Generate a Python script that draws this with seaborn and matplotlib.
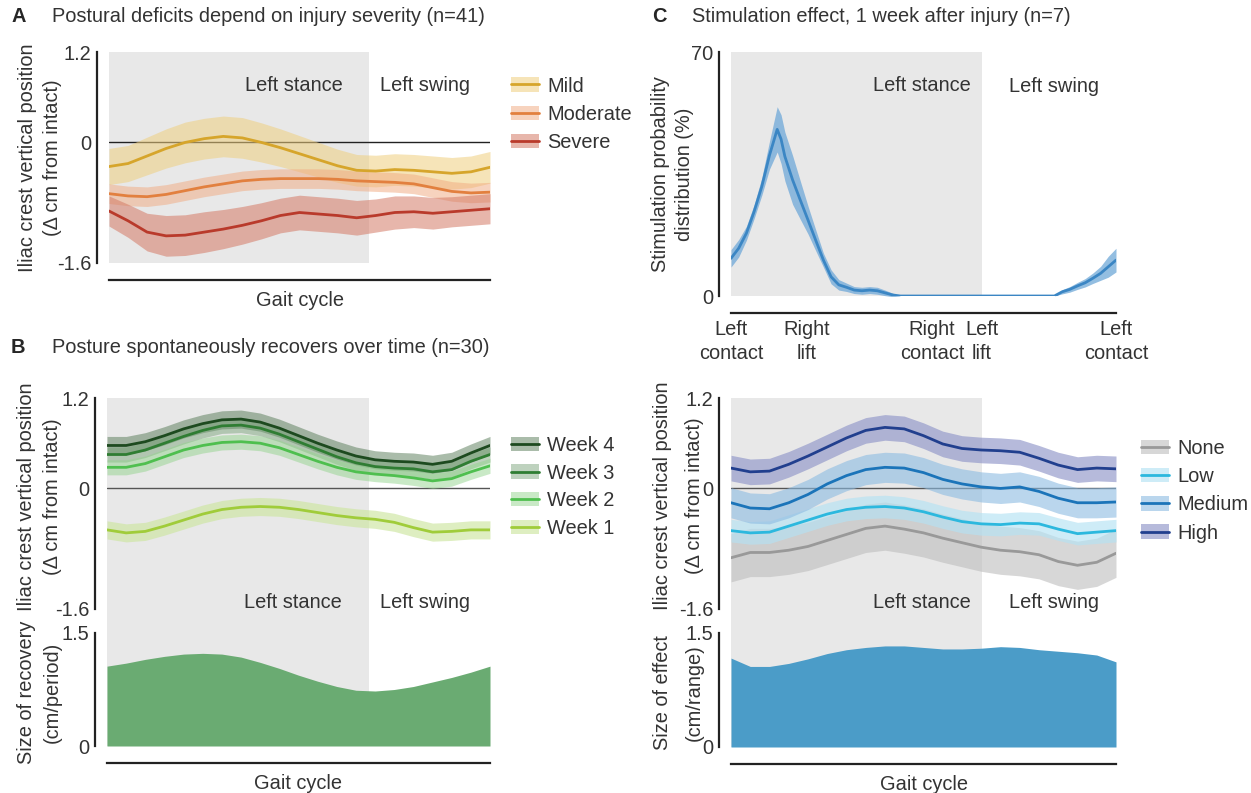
import numpy as np
import pandas as pd
import matplotlib
matplotlib.use("Agg")
import matplotlib.pyplot as plt
import seaborn as sns
from matplotlib.patches import Patch
from matplotlib.lines import Line2D

W, H = 1251, 793

# ---------------- data ----------------
gait = [0.00, 0.05, 0.10, 0.15, 0.20, 0.25, 0.30, 0.35, 0.40, 0.45, 0.50,
        0.55, 0.60, 0.65, 0.70, 0.75, 0.80, 0.85, 0.90, 0.95, 1.00]

# A: injury severity
severity_names = ["Mild", "Moderate", "Severe"]
mild = [-0.32, -0.28, -0.18, -0.08, 0.00, 0.05, 0.08, 0.06, 0.00, -0.07, -0.15,
        -0.23, -0.31, -0.37, -0.38, -0.36, -0.37, -0.39, -0.41, -0.39, -0.33]
mild_sd = [0.24, 0.24, 0.25, 0.26, 0.27, 0.27, 0.27, 0.27, 0.26, 0.25, 0.24,
           0.23, 0.22, 0.21, 0.21, 0.21, 0.21, 0.21, 0.21, 0.21, 0.21]
moderate = [-0.68, -0.71, -0.72, -0.69, -0.64, -0.59, -0.55, -0.51, -0.49, -0.48, -0.48,
            -0.48, -0.49, -0.51, -0.52, -0.53, -0.55, -0.60, -0.65, -0.67, -0.66]
moderate_sd = [0.13] * 21
severe = [-0.91, -1.04, -1.19, -1.24, -1.23, -1.19, -1.15, -1.10, -1.04, -0.97, -0.93,
          -0.95, -0.97, -1.00, -0.97, -0.93, -0.92, -0.94, -0.92, -0.90, -0.88]
severe_sd = [0.20, 0.22, 0.25, 0.27, 0.27, 0.27, 0.26, 0.25, 0.24, 0.23, 0.23,
             0.23, 0.23, 0.23, 0.22, 0.22, 0.21, 0.21, 0.20, 0.20, 0.20]
stance_end_A = 0.682

# B: spontaneous recovery
week_names = ["Week 4", "Week 3", "Week 2", "Week 1"]
week4 = [0.57, 0.57, 0.62, 0.70, 0.79, 0.86, 0.91, 0.92, 0.88, 0.80, 0.70,
         0.60, 0.51, 0.43, 0.38, 0.36, 0.35, 0.32, 0.36, 0.47, 0.57]
week3 = [0.45, 0.45, 0.51, 0.60, 0.69, 0.77, 0.83, 0.84, 0.80, 0.72, 0.62,
         0.52, 0.42, 0.34, 0.29, 0.27, 0.26, 0.22, 0.25, 0.36, 0.45]
week2 = [0.28, 0.28, 0.33, 0.42, 0.51, 0.57, 0.61, 0.62, 0.60, 0.54, 0.45,
         0.36, 0.28, 0.22, 0.19, 0.17, 0.14, 0.10, 0.13, 0.22, 0.30]
week1 = [-0.55, -0.59, -0.57, -0.50, -0.42, -0.34, -0.28, -0.25, -0.24, -0.25, -0.28,
         -0.32, -0.36, -0.39, -0.41, -0.45, -0.52, -0.58, -0.57, -0.55, -0.55]
week_sd = [0.12, 0.10, 0.10, 0.12]
recovery = [1.06, 1.10, 1.15, 1.19, 1.22, 1.23, 1.22, 1.18, 1.11, 1.03, 0.94,
            0.86, 0.79, 0.74, 0.73, 0.75, 0.79, 0.85, 0.91, 0.98, 1.06]
stance_end_B = 0.683

# C: stimulation
stim_x = [0.00, 0.02, 0.04, 0.06, 0.08, 0.10, 0.12, 0.13, 0.14, 0.16, 0.18, 0.20,
          0.22, 0.24, 0.26, 0.28, 0.30, 0.32, 0.34, 0.36, 0.38, 0.40, 0.42, 0.44,
          0.60, 0.84, 0.86, 0.88, 0.90, 0.92, 0.94, 0.96, 0.98, 1.00]
stim_mean = [10.8, 13.7, 18.0, 24.2, 31.4, 40.4, 47.8, 45.0, 40.0, 33.3, 27.5, 21.8,
             16.0, 10.3, 5.5, 3.2, 2.5, 1.7, 1.5, 1.7, 1.5, 0.9, 0.3, 0.0,
             0.0, 0.0, 1.2, 1.9, 2.9, 3.8, 5.1, 6.5, 8.4, 10.3]
stim_sem = [2.5, 2.5, 2.0, 2.0, 2.5, 4.0, 6.5, 7.0, 7.0, 7.0, 5.5, 4.0,
            3.0, 2.0, 2.0, 1.5, 1.2, 1.0, 1.0, 1.0, 1.0, 0.8, 0.5, 0.0,
            0.0, 0.0, 0.6, 0.8, 1.0, 1.2, 1.5, 2.0, 3.0, 3.4]
event_pos = [0.0, 0.197, 0.522, 0.652, 1.0]
event_labels = ["Left\ncontact", "Right\nlift", "Right\ncontact", "Left\nlift", "Left\ncontact"]
stance_end_C = 0.652

amp_names = ["None", "Low", "Medium", "High"]
amp_none = [-0.92, -0.85, -0.85, -0.82, -0.77, -0.69, -0.61, -0.53, -0.50, -0.54, -0.59,
            -0.66, -0.72, -0.78, -0.82, -0.84, -0.88, -0.97, -1.02, -0.98, -0.86]
amp_low = [-0.56, -0.59, -0.58, -0.50, -0.42, -0.34, -0.28, -0.25, -0.24, -0.26, -0.31,
           -0.38, -0.44, -0.47, -0.48, -0.46, -0.47, -0.54, -0.60, -0.58, -0.56]
amp_medium = [-0.19, -0.26, -0.27, -0.19, -0.08, 0.06, 0.17, 0.25, 0.28, 0.27, 0.21,
              0.12, 0.06, 0.02, 0.00, 0.02, -0.04, -0.13, -0.19, -0.19, -0.18]
amp_high = [0.27, 0.22, 0.23, 0.32, 0.43, 0.55, 0.67, 0.77, 0.81, 0.79, 0.70,
            0.59, 0.53, 0.51, 0.50, 0.48, 0.40, 0.31, 0.25, 0.27, 0.26]
amp_sd = [0.32, 0.15, 0.20, 0.17]
effect = [1.17, 1.06, 1.06, 1.10, 1.16, 1.23, 1.28, 1.31, 1.33, 1.33, 1.31,
          1.29, 1.29, 1.30, 1.32, 1.31, 1.28, 1.26, 1.24, 1.21, 1.12]

# ---------------- style ----------------
sns.set_style("white")
plt.rcParams["font.family"] = ["Liberation Sans", "DejaVu Sans"]
FS = 14.4
plt.rcParams["font.size"] = FS
TXT = "#333333"
SHADE = "#e8e8e8"
SPINE_W = 1.6

fig = plt.figure(figsize=(W / 100, H / 100), dpi=100)


def box(l, t, r, b):
    return [l / W, 1 - b / H, (r - l) / W, (b - t) / H]


def add_ax(l, t, r, b, z=1):
    ax = fig.add_axes(box(l, t, r, b), zorder=z)
    ax.patch.set_alpha(0)
    ax.set_xlim(0, 1)
    ax._px = (l, t, r, b)
    return ax


def ylabel2(ax, line1, line2, x1, x2, yc=None):
    # two-line y label, each line placed on its own (positions in figure pixels)
    l, t, r, b = ax._px
    yf = 0.5 if yc is None else (b - yc) / (b - t)
    for s, x in [(line1, x1), (line2, x2)]:
        ax.text((x - l) / (r - l), yf, s, transform=ax.transAxes, rotation=90,
                ha="center", va="center", fontsize=FS, color=TXT)


def style_y(ax, lo, hi, ticks, ticklabels):
    ax.set_ylim(lo, hi)
    ax.set_yticks(ticks)
    ax.set_yticklabels(ticklabels)
    for s in ["top", "right", "bottom"]:
        ax.spines[s].set_visible(False)
    ax.spines["left"].set_position(("outward", 8.5))
    ax.spines["left"].set_linewidth(SPINE_W)
    ax.spines["left"].set_color("#222222")
    ax.tick_params(axis="y", direction="in", length=4, width=SPINE_W, pad=4,
                   labelsize=FS, colors="#222222", labelcolor=TXT)
    ax.set_xticks([])


def bracket(ax, ticks, ticklabels, xlabel=None, pad=12.5):
    sp = ax.spines["bottom"]
    sp.set_visible(True)
    sp.set_position(("outward", pad))
    sp.set_linewidth(SPINE_W)
    sp.set_color("#222222")
    ax.set_xticks(ticks)
    ax.set_xticklabels(ticklabels)
    ax.tick_params(axis="x", direction="in", length=4, width=SPINE_W, pad=5,
                   labelsize=FS, labelcolor=TXT, colors="#222222")
    for lbl in ax.get_xticklabels():
        lbl.set_linespacing(1.3)
    if xlabel:
        ax.set_xlabel(xlabel, fontsize=FS, color=TXT, labelpad=3)


def band_line(ax, x, y, sd, line_c, band_c, band_a):
    y = np.asarray(y)
    sd = np.asarray(sd)
    ax.fill_between(x, y - sd, y + sd, color=band_c, alpha=band_a, lw=0, zorder=2)
    sns.lineplot(x=x, y=y, ax=ax, color=line_c, lw=2, zorder=3, legend=False)


def add_legend(names, line_cs, band_cs, band_as, x_px, y_px, spacing=0.5):
    handles = [(Patch(facecolor=b, alpha=a, lw=0), Line2D([], [], color=l, lw=2))
               for l, b, a in zip(line_cs, band_cs, band_as)]
    fig.legend(handles, names, loc="upper left", bbox_to_anchor=(x_px / W, 1 - y_px / H),
               frameon=False, fontsize=FS, handlelength=1.4, handleheight=0.72,
               handletextpad=0.4, labelspacing=spacing, borderpad=0, borderaxespad=0,
               labelcolor=TXT)


def panel_title(x_letter, x_text, y, letter, text):
    fig.text(x_letter / W, 1 - y / H, letter, fontsize=FS, fontweight="bold", va="center")
    fig.text(x_text / W, 1 - y / H, text, fontsize=FS, va="center", color=TXT)


# ---------------- Panel A ----------------
panel_title(11, 52, 17, "A", "Postural deficits depend on injury severity (n=41)")
axA = add_ax(109, 52, 490, 263)
axA.axvspan(0, stance_end_A, color=SHADE, lw=0, zorder=0)
axA.axhline(0, color="#222222", lw=1, zorder=1)
sev_lines = ["#d6a52b", "#e2803f", "#b93a2b"]
sev_bands = ["#efcf7f", "#f1a97f", "#d47a66"]
sev_alpha = [0.55, 0.5, 0.55]
for y, sd, lc, bc, ba in zip([mild, moderate, severe], [mild_sd, moderate_sd, severe_sd],
                             sev_lines, sev_bands, sev_alpha):
    band_line(axA, gait, y, sd, lc, bc, ba)
style_y(axA, -1.6, 1.2, [-1.6, 0, 1.2], ["-1.6", "0", "1.2"])
ylabel2(axA, "Iliac crest vertical position", "(\u0394 cm from intact)", 27, 53)
bracket(axA, [0, 1], ["", ""], "Gait cycle")
axA.text(0.486, 0.75, "Left stance", ha="center", va="center", fontsize=FS, color=TXT)
axA.text(0.83, 0.75, "Left swing", ha="center", va="center", fontsize=FS, color=TXT)
add_legend(severity_names, sev_lines, sev_bands, sev_alpha, 511, 76.5, spacing=0.47)

# ---------------- Panel B ----------------
panel_title(11, 52, 348, "B", "Posture spontaneously recovers over time (n=30)")
bgB = add_ax(107, 398, 490, 746, z=0)
bgB.axvspan(0, stance_end_B, color=SHADE, lw=0)
bgB.set_ylim(0, 1)
bgB.axis("off")
bgB.text(0.486, 0.411, "Left stance", ha="center", va="center", fontsize=FS, color=TXT)
bgB.text(0.83, 0.411, "Left swing", ha="center", va="center", fontsize=FS, color=TXT)

axB1 = add_ax(107, 398, 490, 609)
axB1.axhline(0, color="#555555", lw=1, zorder=1)
wk_lines = ["#1d4a1f", "#2f7d33", "#4fbf4f", "#a0cc3a"]
wk_bands = ["#567a56", "#6f9d6f", "#94d48e", "#cde6a0"]
wk_alpha = [0.5, 0.45, 0.5, 0.65]
for y, sd, lc, bc, ba in zip([week4, week3, week2, week1], week_sd, wk_lines, wk_bands, wk_alpha):
    band_line(axB1, gait, y, [sd] * len(gait), lc, bc, ba)
style_y(axB1, -1.6, 1.2, [-1.6, 0, 1.2], ["-1.6", "0", "1.2"])
ylabel2(axB1, "Iliac crest vertical position", "(\u0394 cm from intact)", 27, 53, yc=497)
add_legend(week_names, wk_lines, wk_bands, wk_alpha, 511, 436, spacing=0.43)

axB2 = add_ax(107, 633, 490, 746)
axB2.fill_between(gait, 0, recovery, color="#6aab72", lw=0, zorder=2)
style_y(axB2, 0, 1.5, [0, 1.5], ["0", "1.5"])
ylabel2(axB2, "Size of recovery", "(cm/period)", 27, 52, yc=692)
bracket(axB2, [0, 1], ["", ""], "Gait cycle")

# ---------------- Panel C ----------------
panel_title(652, 692, 17, "C", "Stimulation effect, 1 week after injury (n=7)")
axC1 = add_ax(731, 52, 1116, 296)
axC1.axvspan(0, stance_end_C, color=SHADE, lw=0, zorder=0)
band_line(axC1, stim_x, stim_mean, stim_sem, "#3b86c4", "#6fa8d8", 0.75)
style_y(axC1, 0, 70, [0, 70], ["0", "70"])
ylabel2(axC1, "Stimulation probability", "distribution (%)", 660, 685)
bracket(axC1, event_pos, event_labels)
axC1.text(0.496, 60.5, "Left stance", ha="center", va="center", fontsize=FS, color=TXT)
axC1.text(0.839, 60.0, "Left swing", ha="center", va="center", fontsize=FS, color=TXT)

bgC = add_ax(731, 398, 1116, 747, z=0)
bgC.axvspan(0, stance_end_C, color=SHADE, lw=0)
bgC.set_ylim(0, 1)
bgC.axis("off")
bgC.text(0.496, 0.413, "Left stance", ha="center", va="center", fontsize=FS, color=TXT)
bgC.text(0.839, 0.413, "Left swing", ha="center", va="center", fontsize=FS, color=TXT)

axC2 = add_ax(731, 398, 1116, 609)
axC2.axhline(0, color="#555555", lw=1, zorder=1)
amp_lines = ["#999999", "#2cb8de", "#1b74b9", "#213f8e"]
amp_bands = ["#bdbdbd", "#b5e2f3", "#8cbbe2", "#8f95c9"]
amp_alpha = [0.6, 0.65, 0.6, 0.65]
for y, sd, lc, bc, ba in zip([amp_none, amp_low, amp_medium, amp_high], amp_sd,
                             amp_lines, amp_bands, amp_alpha):
    band_line(axC2, gait, y, [sd] * len(gait), lc, bc, ba)
style_y(axC2, -1.6, 1.2, [-1.6, 0, 1.2], ["-1.6", "0", "1.2"])
ylabel2(axC2, "Iliac crest vertical position", "(\u0394 cm from intact)", 662, 695, yc=496)
add_legend(amp_names, amp_lines, amp_bands, amp_alpha, 1141, 439, spacing=0.46)

axC3 = add_ax(731, 633, 1116, 747)
axC3.fill_between(gait, 0, effect, color="#4b9cc8", lw=0, zorder=2)
style_y(axC3, 0, 1.5, [0, 1.5], ["0", "1.5"])
ylabel2(axC3, "Size of effect", "(cm/range)", 662, 694, yc=693)
bracket(axC3, [0, 1], ["", ""], "Gait cycle")

fig.savefig("out.png", dpi=100)
